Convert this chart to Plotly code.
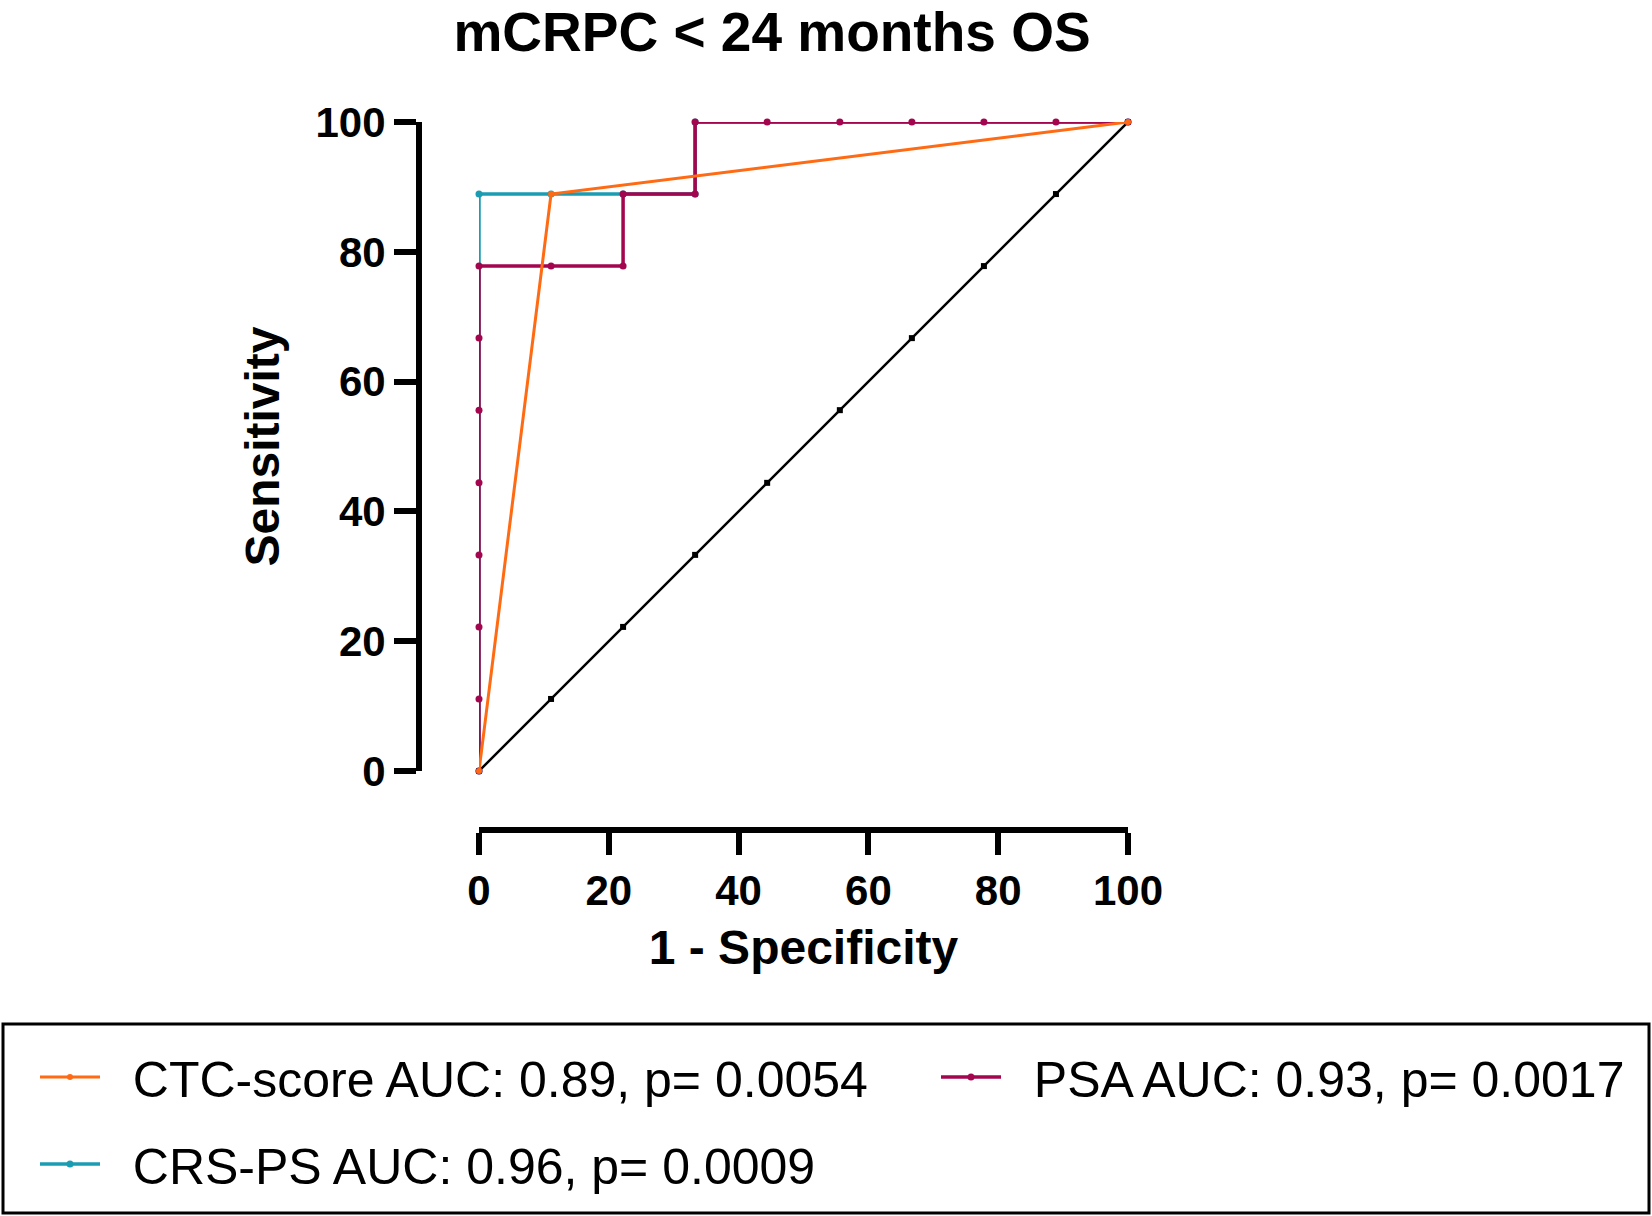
import plotly.graph_objects as go

# ROC curve points, (1 - specificity, sensitivity) in %
ref_x = [0, 11.1, 22.2, 33.3, 44.4, 55.6, 66.7, 77.8, 88.9, 100]
ref_y = [0, 11.1, 22.2, 33.3, 44.4, 55.6, 66.7, 77.8, 88.9, 100]

ctc_x = [0, 11.1, 100]
ctc_y = [0, 88.9, 100]

crs_x = [0, 0, 11.1, 22.2, 33.3, 33.3, 100]
crs_y = [0, 88.9, 88.9, 88.9, 88.9, 100, 100]

psa_x = [0, 0, 0, 0, 0, 0, 0, 0, 11.1, 22.2, 22.2, 33.3, 33.3, 44.4, 55.6, 66.7, 77.8, 88.9, 100]
psa_y = [0, 11.1, 22.2, 33.3, 44.4, 55.6, 66.7, 77.8, 77.8, 77.8, 88.9, 88.9, 100, 100, 100, 100, 100, 100, 100]

names = ["CTC-score AUC: 0.89, p= 0.0054",
         "CRS-PS AUC: 0.96, p= 0.0009",
         "PSA AUC: 0.93, p= 0.0017"]

ORANGE = "#FF6A13"
TEAL = "#1A9CB2"
MAGENTA = "#A3064F"
FONT = "Arial, Liberation Sans, sans-serif"
PAD = "\u00a0\u00a0"  # gap between legend swatch and text

fig = go.Figure()

fig.add_trace(go.Scatter(x=ref_x, y=ref_y, mode="lines+markers", showlegend=False,
                         line=dict(color="black", width=2.5),
                         marker=dict(color="black", size=6, symbol="square"),
                         cliponaxis=False))
fig.add_trace(go.Scatter(x=crs_x, y=crs_y, mode="lines+markers", name=PAD + names[1], legend="legend2",
                         line=dict(color=TEAL, width=3.5), marker=dict(color=TEAL, size=7),
                         cliponaxis=False))
fig.add_trace(go.Scatter(x=psa_x, y=psa_y, mode="lines+markers", name=PAD + names[2], legend="legend3",
                         line=dict(color=MAGENTA, width=3.5), marker=dict(color=MAGENTA, size=7),
                         cliponaxis=False))
fig.add_trace(go.Scatter(x=ctc_x, y=ctc_y, mode="lines+markers", name=PAD + names[0], legend="legend",
                         line=dict(color=ORANGE, width=3), marker=dict(color=ORANGE, size=6),
                         cliponaxis=False))

W, H = 1652, 1216

axis_common = dict(
    range=[0, 100], tickvals=[0, 20, 40, 60, 80, 100],
    showgrid=False, zeroline=False, showline=True, linecolor="black", linewidth=6,
    ticks="outside", ticklen=22, tickwidth=6, tickcolor="black",
    tickfont=dict(family=FONT, size=42, color="black", weight="bold"),
    anchor="free", automargin=False,
)

legend_common = dict(xanchor="left", yanchor="middle", itemwidth=60,
                     font=dict(size=50, family=FONT, color="black"),
                     bgcolor="rgba(0,0,0,0)")

fig.update_layout(
    width=W, height=H,
    margin=dict(l=0, r=0, t=0, b=0, autoexpand=False),
    paper_bgcolor="white", plot_bgcolor="white",
    font=dict(family=FONT, color="black"),
    title=dict(text="<b>mCRPC < 24 months OS</b>", x=772 / W, xanchor="center",
               y=1 - 32 / H, yanchor="middle", font=dict(size=55, family=FONT)),
    xaxis=dict(axis_common, domain=[479 / W, 1128 / W], position=1 - 830 / H,
               title=dict(text="1 - Specificity", standoff=16,
                          font=dict(family=FONT, size=48, weight="bold"))),
    yaxis=dict(axis_common, domain=[1 - 771 / H, 1 - 122 / H], position=419 / W,
               title=dict(text="Sensitivity", standoff=20,
                          font=dict(family=FONT, size=48, weight="bold"))),
    legend=dict(legend_common, x=35 / W, y=1 - 1077 / H),
    legend2=dict(legend_common, x=35 / W, y=1 - 1164 / H),
    legend3=dict(legend_common, x=936 / W, y=1 - 1077 / H),
    shapes=[dict(type="rect", xref="paper", yref="paper",
                 x0=3 / W, x1=1 - 3 / W, y0=3 / H, y1=1 - 1024 / H,
                 line=dict(color="black", width=3), fillcolor="rgba(0,0,0,0)", layer="below")],
)

fig.write_html("out.html", config={"displayModeBar": False},
               post_script="document.body.style.margin = '0';")
